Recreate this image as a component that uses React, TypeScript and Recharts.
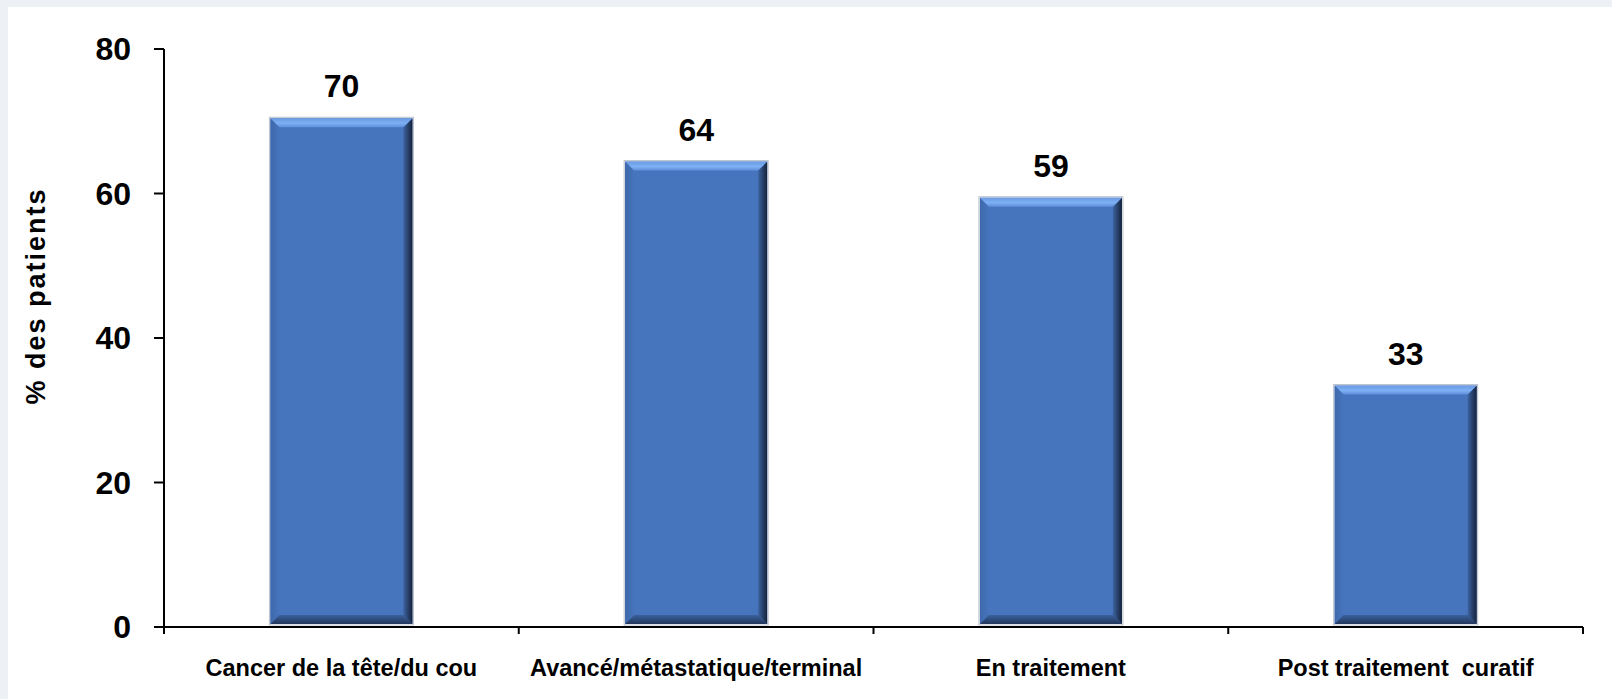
import React from 'react';
import { BarChart, Bar, XAxis, YAxis, LabelList, Label } from 'recharts';

const categories = [
  'Cancer de la tête/du cou',
  'Avancé/métastatique/terminal',
  'En traitement',
  'Post traitement  curatif',
];
const patientShare = [70, 64, 59, 33];
const yTicks = [0, 20, 40, 60, 80];

const data = categories.map((name, i) => ({ name, value: patientShare[i] }));

const FONT = "'Liberation Sans', Arial, sans-serif";
const CHART_W = 1604;
const CHART_H = 692;
const M = { top: 42, right: 29, left: 0, bottom: 0 };
const Y_AXIS_W = 156;
const X_AXIS_H = 72;
const BAND = (CHART_W - M.left - M.right - Y_AXIS_W) / categories.length;

const BevelBar = (props: any) => {
  const { x, width, height } = props;
  const y = props.y - 3;
  if (!height || height <= 0) return null;
  const b = 9;
  const r = x + width;
  const btm = y + height;
  return (
    <g>
      <rect x={x - 1} y={y - 1} width={width + 2} height={height + 2} fill="none" stroke="#b9c0ca" strokeWidth={1} />
      <rect x={x} y={y} width={width} height={height} fill="#4674bd" />
      <polygon points={`${x},${y} ${x + b},${y + b} ${x + b},${btm - b} ${x},${btm}`} fill="url(#bevelLeft)" />
      <polygon points={`${r},${y} ${r},${btm} ${r - b},${btm - b} ${r - b},${y + b}`} fill="url(#bevelRight)" />
      <polygon points={`${x},${btm} ${r},${btm} ${r - b},${btm - b} ${x + b},${btm - b}`} fill="url(#bevelBottom)" />
      <polygon points={`${x},${y} ${r},${y} ${r - b},${y + b} ${x + b},${y + b}`} fill="url(#bevelTop)" />
    </g>
  );
};

const CategoryTick = (props: any) => {
  const { x, y, payload, index } = props;
  const last = index === categories.length - 1;
  return (
    <g>
      <line x1={x - BAND / 2} y1={y} x2={x - BAND / 2} y2={y + 7} stroke="#000" strokeWidth={2} />
      {last && <line x1={x + BAND / 2} y1={y} x2={x + BAND / 2} y2={y + 7} stroke="#000" strokeWidth={2} />}
      <text x={x} y={y + 49} textAnchor="middle" fontFamily={FONT} fontWeight="bold" fontSize={23.5} fill="#000" style={{ whiteSpace: 'pre' }}>
        {payload.value}
      </text>
    </g>
  );
};

const YTitle = (props: any) => {
  const { viewBox } = props;
  const cx = 28;
  const cy = viewBox.y + viewBox.height / 2 - 42;
  return (
    <text
      x={cx}
      y={cy}
      transform={`rotate(-90, ${cx}, ${cy})`}
      textAnchor="middle"
      dominantBaseline="central"
      fontFamily={FONT}
      fontWeight="bold"
      fontSize={27}
      letterSpacing={2}
      fill="#000"
    >
      % des patients
    </text>
  );
};

export default function App() {
  return (
    <div style={{ position: 'absolute', left: 0, top: 0, width: 1612, height: 699, background: '#edf1f5' }}>
      <div style={{ position: 'absolute', left: 8, top: 7, width: CHART_W, height: CHART_H, background: '#fff' }}>
        <BarChart width={CHART_W} height={CHART_H} data={data} margin={M} barCategoryGap="30%">
          <defs>
            <linearGradient id="bevelTop" x1="0" y1="0" x2="0" y2="1">
              <stop offset="0%" stopColor="#6b9ae2" />
              <stop offset="55%" stopColor="#7db0f5" />
              <stop offset="100%" stopColor="#5f8ed8" />
            </linearGradient>
            <linearGradient id="bevelRight" x1="0" y1="0" x2="1" y2="0">
              <stop offset="0%" stopColor="#3d63a0" />
              <stop offset="100%" stopColor="#15223a" />
            </linearGradient>
            <linearGradient id="bevelBottom" x1="0" y1="0" x2="0" y2="1">
              <stop offset="0%" stopColor="#3a609c" />
              <stop offset="100%" stopColor="#23385c" />
            </linearGradient>
            <linearGradient id="bevelLeft" x1="0" y1="0" x2="1" y2="0">
              <stop offset="0%" stopColor="#3e68ab" />
              <stop offset="100%" stopColor="#4674bd" />
            </linearGradient>
          </defs>
          <XAxis
            dataKey="name"
            height={X_AXIS_H}
            interval={0}
            axisLine={{ stroke: '#000', strokeWidth: 2 }}
            tickLine={false}
            tickSize={0}
            tickMargin={0}
            tick={<CategoryTick />}
          />
          <YAxis
            width={Y_AXIS_W}
            domain={[0, 80]}
            ticks={yTicks}
            interval={0}
            axisLine={{ stroke: '#000', strokeWidth: 2 }}
            tickLine={{ stroke: '#000', strokeWidth: 2 }}
            tickSize={10}
            tickMargin={23}
            tick={{ fontFamily: FONT, fontWeight: 'bold', fontSize: 32, fill: '#000' }}
          >
            <Label content={<YTitle />} />
          </YAxis>
          <Bar dataKey="value" shape={<BevelBar />} isAnimationActive={false}>
            <LabelList
              dataKey="value"
              position="top"
              offset={24}
              fontFamily={FONT}
              fontWeight="bold"
              fontSize={32}
              fill="#000"
            />
          </Bar>
        </BarChart>
      </div>
    </div>
  );
}
